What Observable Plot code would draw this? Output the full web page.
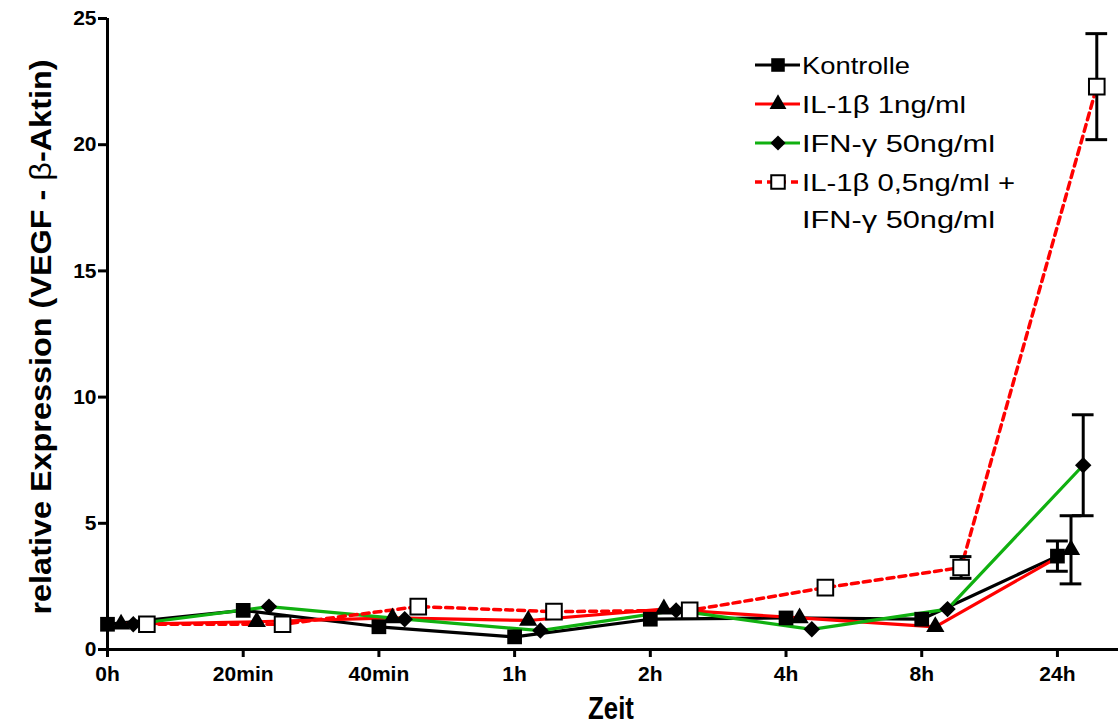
<!DOCTYPE html>
<html>
<head>
<meta charset="utf-8">
<script src="https://cdn.jsdelivr.net/npm/d3@7"></script>
<script src="https://cdn.jsdelivr.net/npm/@observablehq/plot@0.6"></script>
<style>
  html, body { margin: 0; padding: 0; background: #fff; }
  svg { display: block; }
</style>
</head>
<body>
<script>
// ---- data ----
const timeLabels = ["0h", "20min", "40min", "1h", "2h", "4h", "8h", "24h"];
const seriesNames = ["Kontrolle", "IL-1β 1ng/ml", "IFN-γ 50ng/ml", "IL-1β 0,5ng/ml + IFN-γ 50ng/ml"];
const kontrolle = [1.0, 1.55, 0.9, 0.5, 1.2, 1.25, 1.2, 3.7];
const il1b      = [1.0, 1.1, 1.25, 1.15, 1.6, 1.25, 0.9, 3.95];
const ifng      = [1.0, 1.7, 1.2, 0.75, 1.55, 0.8, 1.6, 7.3];
const combo     = [1.0, 1.0, 1.7, 1.5, 1.55, 2.45, 3.25, 22.3];
const kontrolleErr = [0, 0, 0, 0, 0, 0, 0, 0.6];
const il1bErr      = [0, 0, 0, 0, 0, 0, 0, 1.35];
const ifngErr      = [0, 0, 0, 0, 0, 0, 0, 2.0];
const comboErr     = [0, 0, 0, 0, 0, 0, 0.43, 2.1];
const yTicks = [0, 5, 10, 15, 20, 25];

// ---- styling per series ----
const styles = [
  {values: kontrolle, errs: kontrolleErr, offset: 0.0,  color: "#000000", dash: null,  symbol: "square",   fill: "#000", stroke: "none", r: 8.3},
  {values: il1b,      errs: il1bErr,      offset: 0.1,  color: "#ff0000", dash: null,  symbol: "triangle", fill: "#000", stroke: "none", r: 6.8},
  {values: ifng,      errs: ifngErr,      offset: 0.19, color: "#10b010", dash: null,  symbol: "diamond2", fill: "#000", stroke: "none", r: 7.4},
  {values: combo,     errs: comboErr,     offset: 0.29, color: "#ff0000", dash: "7,5", symbol: "square",   fill: "#fff", stroke: "#000", r: 8.8}
];

const rows = [];
styles.forEach((s, si) => {
  s.values.forEach((v, i) => {
    rows.push({series: seriesNames[si], si, t: timeLabels[i], x: i + s.offset, y: v, e: s.errs[i]});
  });
});
const errRows = rows.filter(d => d.e > 0);
const cap = 0.08;

const marks = [
  Plot.ruleY([0], {strokeWidth: 3}),
  Plot.ruleX([0], {strokeWidth: 3}),
  Plot.axisY({ticks: yTicks, tickSize: 9, tickPadding: 2, strokeWidth: 3, label: null}),
  Plot.axisX({ticks: d3.range(timeLabels.length), tickFormat: i => timeLabels[i], tickSize: 8, tickPadding: 9, strokeWidth: 3, label: null})
];
styles.forEach((s, si) => {
  marks.push(Plot.line(rows.filter(d => d.si === si), {x: "x", y: "y", stroke: s.color, strokeWidth: s.dash ? 3.5 : 3.2, strokeDasharray: s.dash}));
});
marks.push(
  Plot.ruleX(errRows, {x: "x", y1: d => d.y - d.e, y2: d => d.y + d.e, strokeWidth: 3}),
  Plot.ruleY(errRows, {x1: d => d.x - cap, x2: d => d.x + cap, y: d => d.y + d.e, strokeWidth: 3}),
  Plot.ruleY(errRows, {x1: d => d.x - cap, x2: d => d.x + cap, y: d => d.y - d.e, strokeWidth: 3})
);
styles.forEach((s, si) => {
  marks.push(Plot.dot(rows.filter(d => d.si === si), {x: "x", y: "y", symbol: s.symbol, r: s.r, fill: s.fill, stroke: s.stroke, strokeWidth: 2}));
});

const chart = Plot.plot({
  width: 1118,
  height: 727,
  marginLeft: 107,
  marginRight: 0,
  marginTop: 18,
  marginBottom: 78,
  x: {type: "linear", domain: [0, 7.45]},
  y: {domain: [0, 25]},
  style: {fontFamily: "'Liberation Sans', Arial, sans-serif", fontSize: "21px", fontWeight: "bold", color: "#000", background: "#fff", overflow: "visible"},
  marks
});
document.body.appendChild(chart);

// ---- axis titles & legend ----
const svg = d3.select(chart);
svg.append("text")
  .attr("transform", "translate(611,708) scale(0.86,1.06)")
  .attr("text-anchor", "middle").attr("dominant-baseline", "central")
  .style("font-size", "30px").style("font-weight", "bold")
  .text("Zeit");

const yl = svg.append("text")
  .attr("transform", "translate(40,337) rotate(-90)")
  .attr("text-anchor", "middle").attr("dominant-baseline", "central")
  .attr("textLength", 555).attr("lengthAdjust", "spacingAndGlyphs")
  .style("font-size", "30px").style("font-weight", "bold");
yl.append("tspan").text("relative Expression (VEGF - ");
yl.append("tspan").style("font-weight", "normal").text("β");
yl.append("tspan").text("-Aktin)");

const legendRows = [
  {lines: [seriesNames[0]], widths: [108], y: 65},
  {lines: [seriesNames[1]], widths: [164], y: 104},
  {lines: [seriesNames[2]], widths: [193], y: 143},
  {lines: ["IL-1β 0,5ng/ml +", "IFN-γ 50ng/ml"], widths: [213, 193], y: 182}
];
const lg = svg.append("g").attr("text-anchor", "start");
legendRows.forEach((row, i) => {
  const s = styles[i];
  lg.append("line")
    .attr("x1", 755).attr("x2", 800).attr("y1", row.y).attr("y2", row.y)
    .attr("stroke", s.color).attr("stroke-width", s.dash ? 3.5 : 3.2)
    .attr("stroke-dasharray", s.dash);
  const symType = {square: d3.symbolSquare, triangle: d3.symbolTriangle, diamond2: d3.symbolDiamond2}[s.symbol];
  const sz = s.symbol === "square" && s.fill === "#fff" ? 0.75 : 0.85;
  lg.append("path")
    .attr("transform", `translate(778,${row.y})`)
    .attr("d", d3.symbol(symType, Math.PI * s.r * s.r * sz)())
    .attr("fill", s.fill).attr("stroke", s.stroke).attr("stroke-width", 2);
  row.lines.forEach((t, j) => {
    lg.append("text")
      .attr("x", 802).attr("y", row.y + j * 37)
      .attr("text-anchor", "start")
      .attr("dominant-baseline", "central")
      .attr("textLength", row.widths[j]).attr("lengthAdjust", "spacingAndGlyphs")
      .style("font-size", "24px").style("font-weight", "normal")
      .text(t);
  });
});
</script>
</body>
</html>
